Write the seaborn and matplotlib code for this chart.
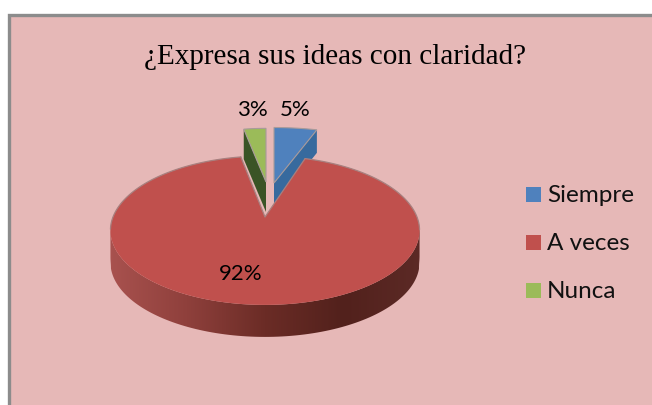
import numpy as np
import matplotlib
matplotlib.use("Agg")
import matplotlib.pyplot as plt
from matplotlib.patches import Rectangle, Polygon
import seaborn as sns

title = "¿Expresa sus ideas con claridad?"
categories = ["Siempre", "A veces", "Nunca"]
shares = [5, 92, 3]
share_labels = ["5%", "92%", "3%"]

top_colors = ["#4f81bd", "#c0504d", "#9bbb59"]
edge_colors = ["#376a9e", "#8c3a38", "#3a5426"]
bg = "#e6b8b7"

# perspective of the pie plate, in pixels of the picture
TILT = 0.181
RX = 152
RY = 72


def project(angle, apex, sx=1.0, sy=1.0):
    # angle is clockwise from 12 o'clock
    x = np.sin(angle)
    y = np.cos(angle)
    w = 1 + TILT * y
    return np.column_stack([apex[0] + sx * RX * x / w, apex[1] - sy * RY * y / w])


sns.set_theme(style="white")
plt.rcParams["font.family"] = ["Lato", "DejaVu Sans"]

fig = plt.figure(figsize=(6.52, 4.06), dpi=100, facecolor="white")
ax = fig.add_axes([0, 0, 1, 1])
ax.set_xlim(0, 652)
ax.set_ylim(406, 0)
ax.axis("off")

ax.add_patch(Rectangle((8.5, 15.5), 660, 400, fc=bg, ec="#8c8c8c", lw=2.4))

ends = np.cumsum(shares) / np.sum(shares) * 2 * np.pi
starts = np.r_[0, ends[:-1]]
apexes = [(274, 184), (265, 218), (266, 183)]
depths = [23, 32, 30]
stretch = [(1.07, 0.91), (1, 1), (0.92, 0.88)]

# small slices first, the red plate covers their feet
for i in [0, 2]:
    arc = project(np.linspace(starts[i], ends[i], 20), apexes[i], *stretch[i])
    apex = np.array(apexes[i], dtype=float)
    rim = arc[-1] if i == 0 else arc[0]
    drop = np.array([0, depths[i]])
    ax.add_patch(Polygon([apex, rim, rim + drop, apex + drop], fc=edge_colors[i], ec="none", zorder=2))
    ax.add_patch(Polygon(np.vstack([apex, arc]), fc=top_colors[i], ec="#a89a9a", lw=0.8, zorder=3))

# red slice, side wall with a shaded band
arc = project(np.linspace(starts[1], ends[1], 240), apexes[1])
front = arc[(arc[:, 1] >= 225)]
front = front[np.argsort(front[:, 0])]
wall = np.vstack([front, (front + [0, depths[1]])[::-1]])
wall_patch = Polygon(wall, fc="none", ec="none", zorder=4)
ax.add_patch(wall_patch)
shade = sns.blend_palette(["#a9524f", "#8f403c", "#6b2c26", "#52211c", "#5c2a26"], as_cmap=True)
im = ax.imshow(np.linspace(0, 1, 256)[None, :], cmap=shade, extent=(108, 422, 360, 220),
               aspect="auto", zorder=4)
im.set_clip_path(wall_patch)
ax.set_xlim(0, 652)
ax.set_ylim(406, 0)

ax.add_patch(Polygon(np.vstack([apexes[1], arc]), fc=top_colors[1], ec="none", zorder=5))
# only the far rim and the notch carry a grey edge
left = arc[(arc[:, 1] < 232) & (arc[:, 0] < 265)]
right = arc[(arc[:, 1] < 232) & (arc[:, 0] > 265)]
ax.plot(right[:, 0], right[:, 1], color="#a8807f", lw=0.9, zorder=5)
ax.plot(left[:, 0], left[:, 1], color="#a8807f", lw=0.9, zorder=5)
notch = np.vstack([arc[0], apexes[1], arc[-1]])
ax.plot(notch[:, 0], notch[:, 1], color="#a8807f", lw=0.9, zorder=5)

# title and percent labels
ax.text(335.5, 64, title, family="Liberation Serif", fontsize=21, color="black", ha="center", va="baseline", zorder=6)
label_pos = [(295, 110), (241, 274), (252, 110)]
for lab, (lx, ly) in zip(share_labels, label_pos):
    ax.text(lx, ly, lab, fontsize=16, color="black", ha="center", va="center", zorder=6)

# legend
for name, col, ly in zip(categories, top_colors, [195, 243, 291]):
    ax.add_patch(Rectangle((526, ly - 7.5), 15, 15, fc=col, ec="none", zorder=6))
    ax.text(547, ly + 1, name, fontsize=17.5, color="#111111", ha="left", va="center", zorder=6)

fig.savefig("out.png", dpi=100, facecolor="white")
